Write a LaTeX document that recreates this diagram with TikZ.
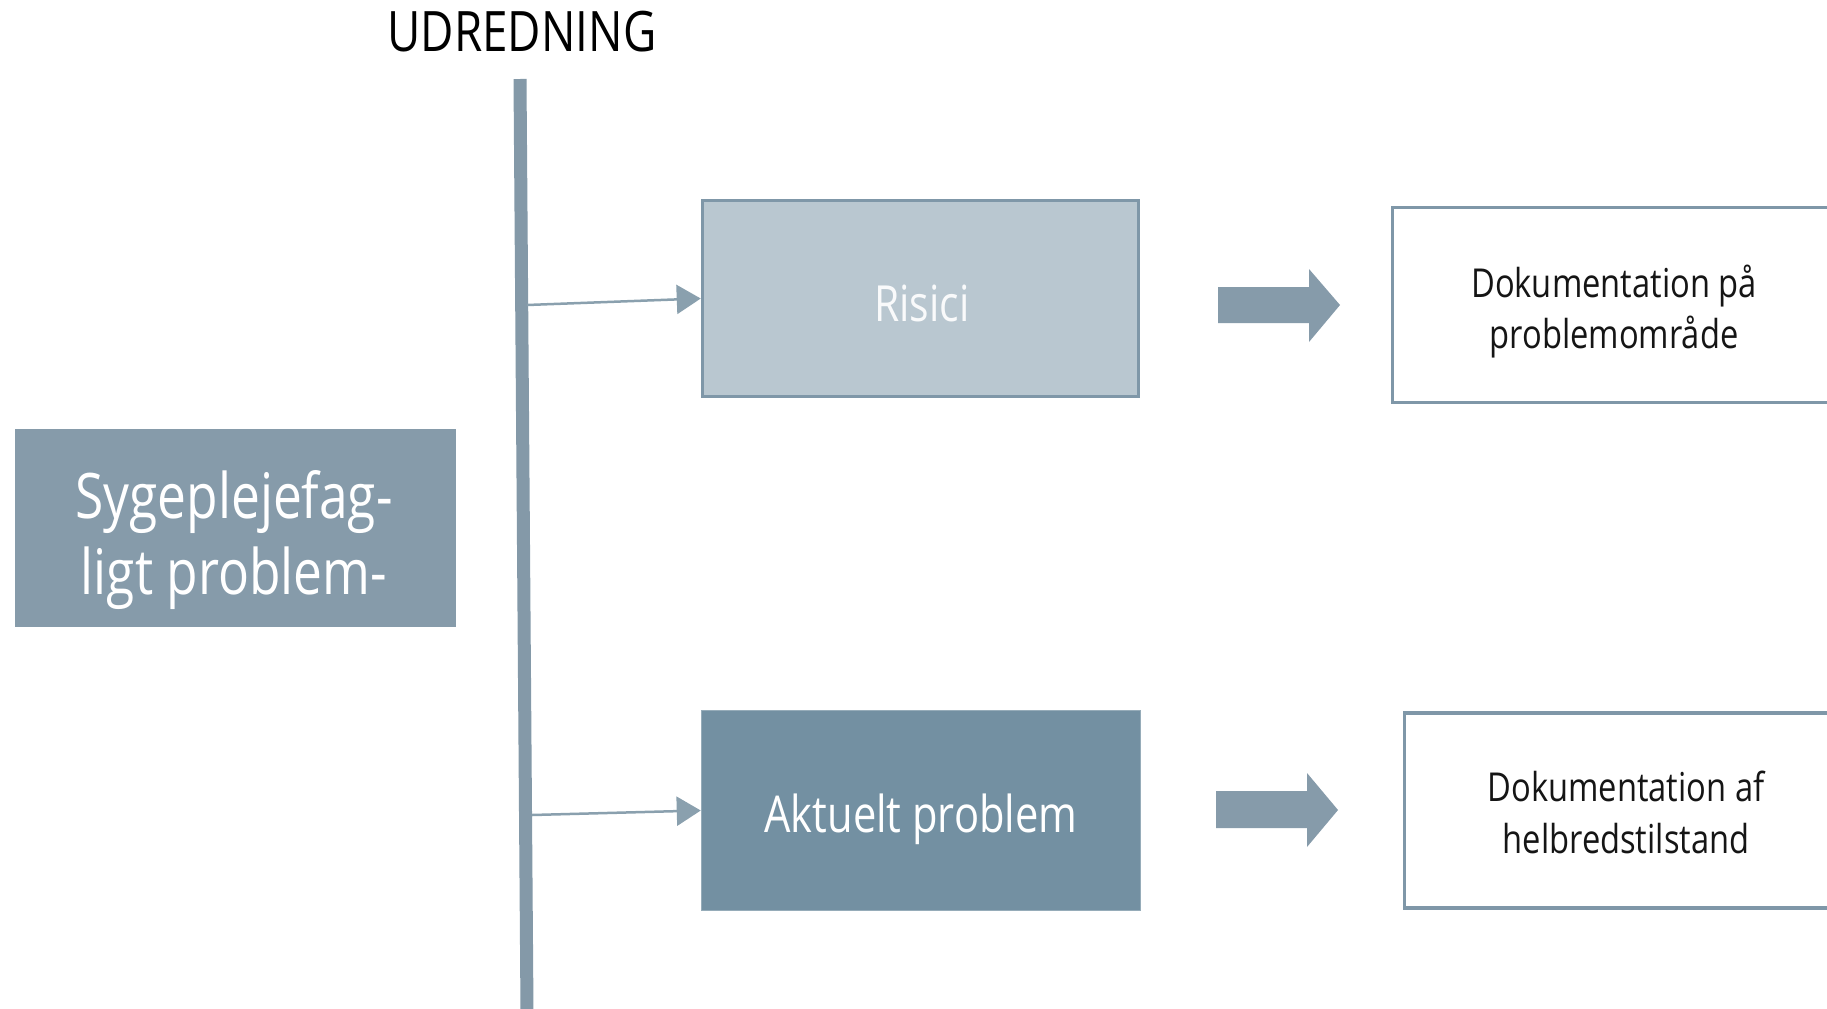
\documentclass[tikz,border=0pt]{standalone}
\usepackage{fontspec}
\setmainfont[FakeStretch=0.82]{Open Sans}
\usetikzlibrary{arrows.meta}
\definecolor{slate}{HTML}{869BAA}
\definecolor{vline}{HTML}{8499A8}
\definecolor{lightbox}{HTML}{B9C7D0}
\definecolor{boxedge}{HTML}{7F97A8}
\definecolor{darkbox}{HTML}{7390A2}
\definecolor{thinarr}{HTML}{8AA0AE}
\definecolor{inktext}{HTML}{151515}
\begin{document}
\begin{tikzpicture}[x=1bp,y=-1bp,
  docbox/.style={draw=boxedge, line width=3.5bp, fill=white, minimum width=443bp, minimum height=195bp, inner sep=0pt},
  doctext/.style={anchor=base, text=inktext, font=\fontsize{40}{48}\selectfont, inner sep=0pt},
  bigtext/.style={anchor=base, text=white, font=\fontsize{63}{76}\selectfont, inner sep=0pt},
  midtext/.style={anchor=base, font=\fontsize{51}{60}\selectfont, inner sep=0pt},
  thinarrow/.style={draw=thinarr, line width=2.5bp, -{Triangle[length=24bp,width=29bp,fill=thinarr]}},
  blockarrow/.style={fill=slate}
]
\useasboundingbox (0,0) rectangle (1827,1008);
\fill[white] (0,0) rectangle (1827,1008);

% title
\node[anchor=base, text=black, font=\fontsize{56}{64}\selectfont, inner sep=0pt] (title) at (522,51) {UDREDNING};

% vertical line
\coordinate (vtop) at (520,79);
\coordinate (vbot) at (527,1012);
\draw[vline, line width=13bp] (vtop) -- (vbot);

% left box
\node[fill=slate, minimum width=441bp, minimum height=198bp, inner sep=0pt] (syg) at (235.5,528) {};
\node[bigtext] (syg1) at (234,518) {Sygeplejefag-};
\node[bigtext] (syg2) at (234,594) {ligt problem-};

% middle boxes
\node[fill=lightbox, draw=boxedge, line width=3.5bp, minimum width=436bp, minimum height=196bp, inner sep=0pt] (ris) at (920.5,298.5) {};
\node[midtext, text=white!92!lightbox, font=\fontsize{50}{60}\selectfont] (ristext) at (922,321) {Risici};
\node[fill=darkbox, draw=darkbox!75!white, line width=1.5bp, minimum width=439bp, minimum height=200bp, inner sep=0pt] (akt) at (921,810.5) {};
\node[midtext, text=white] (akttext) at (921,832) {Aktuelt problem};

% thin arrows
\coordinate (a1) at (527,305);
\coordinate (a2) at (532,815);
\draw[thinarrow] (a1) -- (ris.west);
\draw[thinarrow] (a2) -- (akt.west);

% block arrows
\fill[blockarrow] (1218,287) -- (1309,287) -- (1309,269) -- (1340,305) -- (1309,342) -- (1309,323) -- (1218,323) -- cycle;
\fill[blockarrow] (1216,791) -- (1307,791) -- (1307,773) -- (1338,810) -- (1307,847) -- (1307,828) -- (1216,828) -- cycle;

% right boxes
\node[docbox] (dok1) at (1614,305) {};
\node[doctext] (dok1a) at (1614,297) {Dokumentation på};
\node[doctext] (dok1b) at (1614,348) {problemområde};

\node[docbox] (dok2) at (1626,810.5) {};
\node[doctext] (dok2a) at (1626,801) {Dokumentation af};
\node[doctext] (dok2b) at (1626,853) {helbredstilstand};
\end{tikzpicture}
\end{document}
